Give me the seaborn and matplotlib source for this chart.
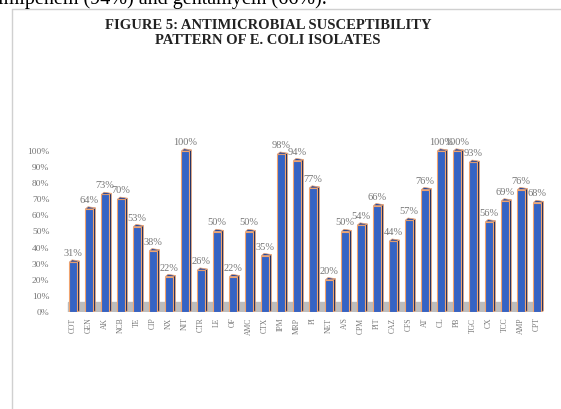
import matplotlib
matplotlib.use("Agg")
import matplotlib.pyplot as plt
from matplotlib.patches import Polygon
from matplotlib.lines import Line2D
import seaborn as sns
import pandas as pd

categories = ["COT", "GEN", "AK", "NCB", "TE", "CIP", "NX", "NIT", "CTR", "LE",
              "OF", "AMC", "CTX", "IPM", "MRP", "PI", "NET", "A/S", "CPM", "PIT",
              "CAZ", "CFS", "AT", "CL", "PB", "TGC", "CX", "TCC", "AMP", "CPT"]
values = [31, 64, 73, 70, 53, 38, 22, 100, 26, 50,
          22, 50, 35, 98, 94, 77, 20, 50, 54, 66,
          44, 57, 76, 100, 100, 93, 56, 69, 76, 68]
yticks = [0, 10, 20, 30, 40, 50, 60, 70, 80, 90, 100]

title = "FIGURE 5: ANTIMICROBIAL SUSCEPTIBILITY\nPATTERN OF E. COLI ISOLATES"
body_text = "imipenem (94%) and gentamycin (66%)."

sns.set_theme(style="white")
plt.rcParams["font.family"] = ["Liberation Serif", "DejaVu Serif"]

df = pd.DataFrame({"drug": categories, "pct": values})

fig = plt.figure(figsize=(5.61, 4.09), dpi=100)
W, H = 561, 409

# page border lines
fig.add_artist(Line2D([12 / W, 12 / W], [0, 1 - 9 / H], transform=fig.transFigure,
                      color="#d0d0d0", lw=1.0))
fig.add_artist(Line2D([12 / W, 1], [1 - 9 / H, 1 - 9 / H], transform=fig.transFigure,
                      color="#d0d0d0", lw=1.0))
# clipped body text at top
fig.text(-2 / W, 1 - 4 / H, body_text, ha="left", va="baseline", fontsize=14.5, color="black")

fig.text(268 / W, 1 - 33 / H, title, ha="center", va="center", fontsize=10.5,
         fontweight="bold", color="#222222", linespacing=1.25)

left = 63.4 / W
right = 546.6 / W
bottom = 1 - 312 / H
unit = (312 - 151) / H / 100
ax = fig.add_axes([left, bottom, right - left, unit * 112])

sns.barplot(data=df, x="drug", y="pct", color="#3563c4", saturation=1,
            width=0.46, edgecolor="#f0a470", linewidth=0.8, ax=ax, zorder=3)
bars = list(ax.patches)

ax.axhspan(0, 6, xmin=0.01, xmax=0.99, color="#bdbdbd", zorder=0)

depth_x = 0.17
depth_y = 1.4
for p in bars:
    x0 = p.get_x()
    w = p.get_width()
    h = p.get_height()
    x1 = x0 + w
    side = Polygon([[x1, 0], [x1 + depth_x, depth_y * 0.5], [x1 + depth_x, h + depth_y * 0.5], [x1, h]],
                   closed=True, facecolor="#1c2f66", edgecolor="#f0a470", lw=0.5, zorder=2.9)
    top = Polygon([[x0, h], [x0 + depth_x, h + depth_y], [x1 + depth_x, h + depth_y * 0.5], [x1, h]],
                  closed=True, facecolor="#2a4a9a", edgecolor="#f0a470", lw=0.5, zorder=3.1)
    ax.add_patch(side)
    ax.add_patch(top)

for i, v in enumerate(values):
    ax.text(i, v + 2.5, f"{v}%", ha="center", va="bottom", fontsize=7.5, color="#777777")

ax.set_xlim(-0.6, len(categories) - 0.4)
ax.set_ylim(0, 112)
ax.set_yticks(yticks)
ax.set_yticklabels([f"{t}%" for t in yticks], fontsize=6.8, color="#777777")
ax.set_xticks(range(len(categories)))
ax.set_xticklabels(categories, rotation=90, fontsize=5.5, color="#777777")
ax.tick_params(axis="y", length=0, pad=10)
ax.tick_params(axis="x", length=0, pad=4)
ax.set_xlabel("")
ax.set_ylabel("")
for s in ax.spines.values():
    s.set_visible(False)
ax.grid(False)
ax.set_facecolor("none")

fig.savefig("out.png", dpi=100)
